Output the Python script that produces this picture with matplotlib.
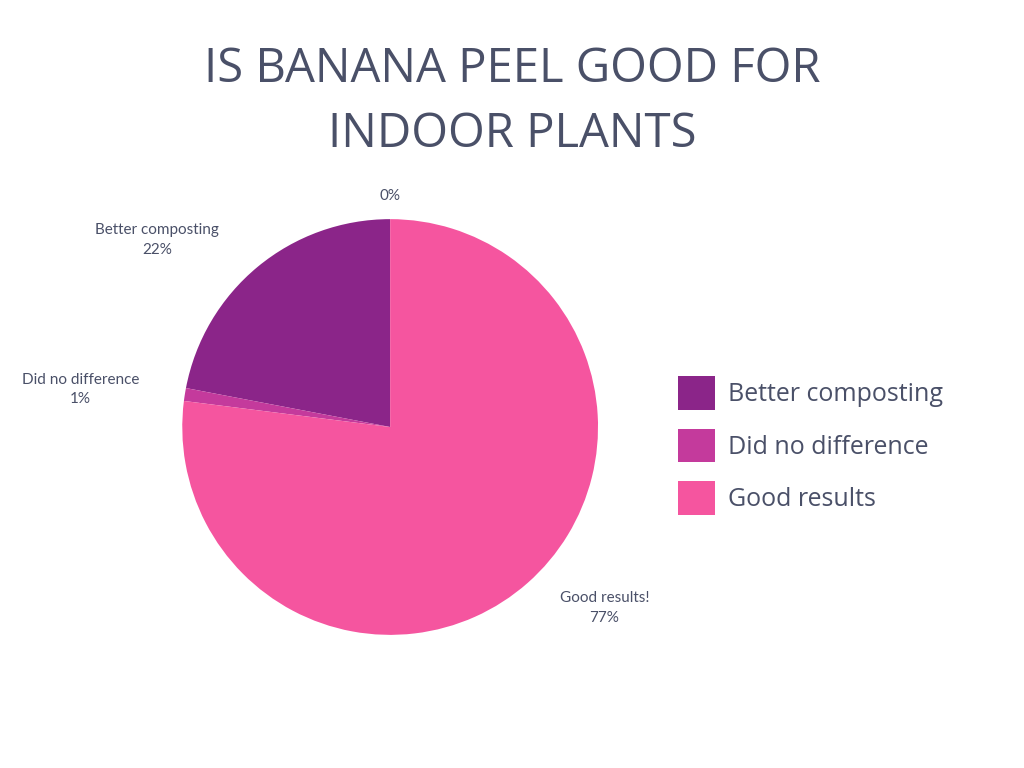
import matplotlib
matplotlib.use("Agg")
import matplotlib.pyplot as plt
from matplotlib.patches import Patch

categories = ["Better composting", "Did no difference", "Good results"]
label_names = ["Better composting", "Did no difference", "Good results!"]
values = [22, 1, 77]
colors = ["#8B2589", "#C43A9C", "#F5559F"]
txt = "#4A5068"

fig = plt.figure(figsize=(10.24, 7.68), dpi=100)
fig.text(0.5, 0.91, "IS BANANA PEEL GOOD FOR", ha="center", va="center",
         fontsize=34, color=txt, family="Open Sans")
fig.text(0.5, 0.825, "INDOOR PLANTS", ha="center", va="center",
         fontsize=34, color=txt, family="Open Sans")

ax = fig.add_axes([0.381 - 0.203, 0.444 - 0.271, 0.406, 0.542])
ax.pie(values, colors=colors, startangle=90, counterclock=True,
       wedgeprops=dict(linewidth=0))
ax.set_xlim(-1, 1); ax.set_ylim(-1, 1)

label_pos = [(-1.12, 0.90), (-1.49, 0.18), (1.03, -0.87)]
for name, v, (x, y) in zip(label_names, values, label_pos):
    ax.text(x, y, f"{name}\n{v}%", ha="center", va="center", fontsize=11,
            color=txt, family="Lato", linespacing=1.5, clip_on=False)
ax.text(0, 1.11, "0%", ha="center", va="center", fontsize=11, color=txt,
        family="Lato", clip_on=False)

handles = [Patch(facecolor=c, edgecolor="none") for c in colors]
fig.legend(handles, categories, loc="center left", bbox_to_anchor=(0.64, 0.42),
           frameon=False, fontsize=18, labelcolor=txt, handlelength=1.5,
           handleheight=1.7, labelspacing=0.75, handletextpad=0.5,
           prop={"family": "Open Sans", "size": 18})
fig.savefig("out.png", dpi=100, facecolor="white")
